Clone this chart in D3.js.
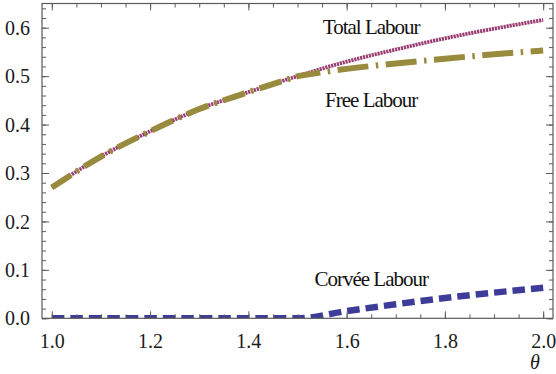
<!DOCTYPE html>
<html>
<head>
<meta charset="utf-8">
<script src="https://cdn.jsdelivr.net/npm/d3@7"></script>
<style>
  body { margin: 0; background: #fff; }
  svg { display: block; font-family: "Liberation Serif", "DejaVu Serif", serif; }
</style>
</head>
<body>
<svg id="chart"></svg>
<script>
// Data
const theta = [1.0, 1.1, 1.2, 1.3, 1.4, 1.5, 1.6, 1.7, 1.8, 1.9, 2.0];
const totalLabour = [0.270, 0.334, 0.386, 0.432, 0.467, 0.500, 0.530, 0.555, 0.578, 0.598, 0.616];
const freeLabour = [0.270, 0.334, 0.386, 0.432, 0.467, 0.500, 0.515, 0.526, 0.536, 0.545, 0.553];
const corveeLabour = [0, 0, 0, 0, 0, 0, 0.015, 0.029, 0.042, 0.053, 0.063];
const xTicks = [1.0, 1.2, 1.4, 1.6, 1.8, 2.0];
const yTicks = [0.0, 0.1, 0.2, 0.3, 0.4, 0.5, 0.6];
const seriesLabels = ["Total Labour", "Free Labour", "Corvée Labour"];

const width = 556;
const height = 374;
const margin = { top: 3.5, right: 3, bottom: 55.7, left: 42 };

const svg = d3.select("#chart")
    .attr("width", width)
    .attr("height", height);

// Scales (Mathematica-style padding on x)
const x = d3.scaleLinear()
    .domain([0.98, 2.02])
    .range([margin.left, width - margin.right]);

const y = d3.scaleLinear()
    .domain([0, 0.65])
    .range([height - margin.bottom, margin.top]);

// Clip to plot area
svg.append("clipPath")
    .attr("id", "clip")
    .append("rect")
    .attr("x", x.range()[0])
    .attr("y", y.range()[1])
    .attr("width", x.range()[1] - x.range()[0])
    .attr("height", y.range()[0] - y.range()[1]);

const line = d3.line()
    .x(d => x(d[0]))
    .y(d => y(d[1]))
    .curve(d3.curveMonotoneX);

const plot = svg.append("g").attr("clip-path", "url(#clip)");

// Total labour: dense dotted purple
plot.append("path")
    .datum(d3.zip(theta, totalLabour))
    .attr("fill", "none")
    .attr("stroke", "#993d71")
    .attr("stroke-width", 3.8)
    .attr("stroke-dasharray", "2.2,0.8")
    .attr("d", line);

// Free labour: thick dash-dot olive (pattern looks shorter where it overlaps the total)
const freePts = d3.zip(theta, freeLabour);
plot.append("path")
    .datum(freePts.filter(d => d[0] <= 1.5))
    .attr("fill", "none")
    .attr("stroke", "#998b3d")
    .attr("stroke-width", 6)
    .attr("stroke-dasharray", "23,6.5,2.5,6.5")
    .attr("d", line);

plot.append("path")
    .datum(freePts.filter(d => d[0] >= 1.5))
    .attr("fill", "none")
    .attr("stroke", "#998b3d")
    .attr("stroke-width", 6)
    .attr("stroke-dasharray", "31,7.5,2.5,7.5")
    .attr("stroke-dashoffset", 8)
    .attr("d", line);

// Corvée labour: thick dashed blue
plot.append("path")
    .datum(d3.zip(theta, corveeLabour))
    .attr("fill", "none")
    .attr("stroke", "#3d3d99")
    .attr("stroke-width", 6.5)
    .attr("stroke-dasharray", "12.5,6")
    .attr("d", line);

// Frame with ticks on all four sides
const frameColor = "#5a5a5a";
const xMinor = d3.range(1.0, 2.0001, 0.05).map(v => +v.toFixed(2));
const yMinor = d3.range(0, 0.6401, 0.02).map(v => +v.toFixed(2));

function frameAxis(axis, transform) {
    const g = svg.append("g")
        .attr("transform", transform)
        .call(axis);
    g.select(".domain").remove();
    g.selectAll("line").attr("stroke", frameColor);
    return g;
}

// minor ticks
frameAxis(d3.axisBottom(x).tickValues(xMinor).tickSize(-4).tickFormat(""),
    `translate(0,${y(0)})`);
frameAxis(d3.axisTop(x).tickValues(xMinor).tickSize(-4).tickFormat(""),
    `translate(0,${y.range()[1]})`);
frameAxis(d3.axisLeft(y).tickValues(yMinor).tickSize(-4).tickFormat(""),
    `translate(${x.range()[0]},0)`);
frameAxis(d3.axisRight(y).tickValues(yMinor).tickSize(-4).tickFormat(""),
    `translate(${x.range()[1]},0)`);

// major ticks with labels
const xAxis = frameAxis(d3.axisBottom(x).tickValues(xTicks).tickSize(-7).tickPadding(22).tickFormat(d3.format(".1f")),
    `translate(0,${y(0)})`);
frameAxis(d3.axisTop(x).tickValues(xTicks).tickSize(-7).tickFormat(""),
    `translate(0,${y.range()[1]})`);
const yAxis = frameAxis(d3.axisLeft(y).tickValues(yTicks).tickSize(-7).tickPadding(12).tickFormat(d3.format(".1f")),
    `translate(${x.range()[0]},0)`);
frameAxis(d3.axisRight(y).tickValues(yTicks).tickSize(-7).tickFormat(""),
    `translate(${x.range()[1]},0)`);

xAxis.selectAll("text")
    .attr("font-family", "Liberation Serif")
    .attr("font-size", 20)
    .attr("fill", "#1a1a1a")
    .attr("dy", 0)
    .attr("y", 29.5);

yAxis.selectAll("text")
    .attr("font-family", "Liberation Serif")
    .attr("font-size", 20)
    .attr("fill", "#1a1a1a")
    .attr("dy", "0.33em");

// frame rectangle
svg.append("rect")
    .attr("x", x.range()[0])
    .attr("y", y.range()[1])
    .attr("width", x.range()[1] - x.range()[0])
    .attr("height", y.range()[0] - y.range()[1])
    .attr("fill", "none")
    .attr("stroke", frameColor)
    .attr("stroke-width", 1.2);

// axis label
svg.append("text")
    .attr("x", 535)
    .attr("y", 369)
    .attr("text-anchor", "middle")
    .attr("font-style", "italic")
    .attr("font-size", 20)
    .attr("fill", "#1a1a1a")
    .text("θ");

// series labels
const labelPos = [[1.65, 0.588], [1.65, 0.437], [1.65, 0.067]];
svg.append("g")
    .selectAll("text")
    .data(seriesLabels)
    .join("text")
    .attr("x", (d, i) => x(labelPos[i][0]))
    .attr("y", (d, i) => y(labelPos[i][1]))
    .attr("text-anchor", "middle")
    .attr("font-size", 21)
    .attr("letter-spacing", -1)
    .attr("fill", "#111")
    .text(d => d);
</script>
</body>
</html>
